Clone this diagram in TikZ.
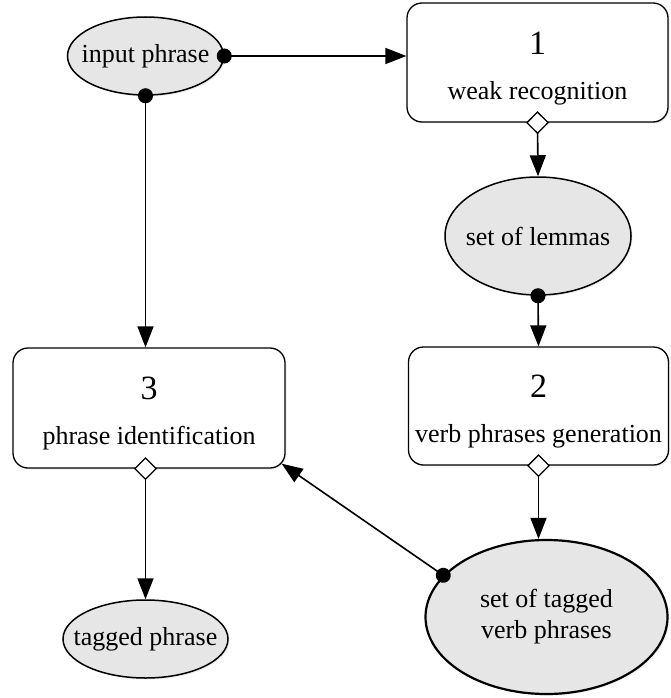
\documentclass[tikz,border=0pt]{standalone}
\usepackage{fontspec}
\setmainfont{Liberation Serif}
\usetikzlibrary{arrows.meta,shadows,shapes.geometric}
\definecolor{ellfill}{HTML}{E6E6E6}
\begin{document}
\begin{tikzpicture}[x=1pt,y=-1pt,
  every node/.style={font=\fontsize{26}{31}\selectfont},
  softshadow/.style={drop shadow={opacity=0.15, shadow xshift=1.5pt, shadow yshift=-1.5pt}},
  dataell/.style={ellipse, draw, line width=1.5pt, fill=ellfill, inner sep=0pt, align=center, softshadow},
  procbox/.style={rectangle, rounded corners=15pt, draw, line width=1.3pt, fill=white, align=center, inner sep=0pt, softshadow},
  conn/.style={line width=1.6pt},
  dotarr/.style={conn, {Circle[length=15pt]}-{Triangle[length=21pt,width=16pt]}, shorten <=-7.5pt},
  diaarr/.style={conn, {Diamond[length=23pt,width=23pt,fill=white,line width=1.3pt]}-{Triangle[length=21pt,width=16pt]}, shorten <=-11.5pt},
]
\useasboundingbox (0,0) rectangle (670,698);

\node[dataell, minimum width=156pt, minimum height=78pt] (inp) at (145.5,56) {\makebox[0pt]{input phrase}};
\node[procbox, minimum width=261pt, minimum height=119pt] (b1) at (537.5,62.5)
  {\rule{0pt}{34pt}{\fontsize{34}{36}\selectfont 1}\\[14pt] weak recognition};
\node[dataell, minimum width=186pt, minimum height=118pt] (lem) at (538,236) {\makebox[0pt]{set of lemmas}};
\node[procbox, minimum width=260pt, minimum height=118pt] (b2) at (538.5,406)
  {\rule{0pt}{34pt}{\fontsize{34}{36}\selectfont 2}\\[14pt] verb phrases generation};
\node[dataell, line width=2.2pt, minimum width=242pt, minimum height=154pt] (vp) at (546.5,617)
  {set of tagged\\ verb phrases};
\node[procbox, minimum width=272pt, minimum height=120pt] (b3) at (149,408)
  {\rule{0pt}{34pt}{\fontsize{34}{36}\selectfont 3}\\[14pt] phrase identification};
\node[dataell, minimum width=165pt, minimum height=78pt] (tp) at (145.5,639) {\makebox[0pt]{tagged phrase}};

\draw[dotarr] (inp.east) -- (inp.east -| b1.west);
\draw[dotarr] (inp.south) -- (inp.south |- b3.north);
\draw[diaarr] (b1.south) -- (lem.north);
\draw[dotarr] (lem.south) -- (b2.north);
\draw[diaarr] (b2.south) -- (b2.south |- vp.north);
\draw[dotarr] (vp.158) -- ([xshift=-4pt,yshift=5pt]b3.south east);
\draw[diaarr] (tp.north |- b3.south) -- (tp.north);
\end{tikzpicture}
\end{document}
